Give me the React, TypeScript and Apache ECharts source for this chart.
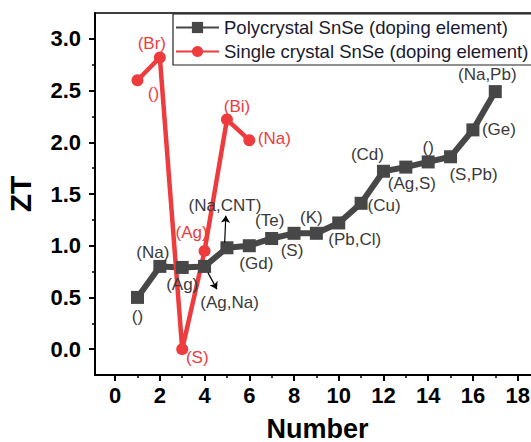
import React, { useEffect, useRef } from "react";
import * as echarts from "echarts";

// ---- data ----
const polyNumbers = [1, 2, 3, 4, 5, 6, 7, 8, 9, 10, 11, 12, 13, 14, 15, 16, 17];
const polyZT = [0.5, 0.8, 0.79, 0.8, 0.98, 1.0, 1.07, 1.12, 1.12, 1.22, 1.41, 1.72, 1.76, 1.81, 1.86, 2.12, 2.49];
const polyLabels = ["()", "(Na)", "(Ag)", "(Ag,Na)", "(Na,CNT)", "(Gd)", "(Te)", "(S)", "(K)", "(Pb,Cl)", "(Cu)", "(Cd)", "(Ag,S)", "()", "(S,Pb)", "(Ge)", "(Na,Pb)"];

const singleNumbers = [1, 2, 3, 4, 5, 6];
const singleZT = [2.6, 2.82, 0.0, 0.95, 2.22, 2.02];
const singleLabels = ["()", "(Br)", "(S)", "(Ag)", "(Bi)", "(Na)"];

const xTicks = [0, 2, 4, 6, 8, 10, 12, 14, 16, 18];
const xMinorTicks = [1, 3, 5, 7, 9, 11, 13, 15, 17];
const yTicks = [0, 0.5, 1.0, 1.5, 2.0, 2.5, 3.0];
const yMinorTicks = [0.25, 0.75, 1.25, 1.75, 2.25, 2.75];

const seriesNames = ["Polycrystal SnSe (doping element)", "Single crystal SnSe (doping element)"];

// ---- styles (label placement offsets in pixels) ----
const polyLabelOffsets = [
  [0, 19], [-7, -14], [0, 17], [25, 36], [-2, -42], [7, 18], [-2, -18], [-2, 17], [-5, -16],
  [16, 17], [23, 2], [-16, -17], [6, 16], [0, -14], [23, 18], [26, 0], [-8, -17],
];
const singleLabelOffsets = [[16, 13], [-8, -14], [15, 8], [-13, -18], [10, -13], [25, -2]];

const FONT = "'Liberation Sans', Arial, sans-serif";
const GRAY = "#474747";
const RED = "#ee3b3d";

export default function App() {
  const ref = useRef<HTMLDivElement>(null);
  useEffect(() => {
    if (!ref.current) return;
    const chart = echarts.init(ref.current, null, { renderer: "svg" });
    const polyData = polyNumbers.map((x, i) => ({
      value: [x, polyZT[i]],
      label: { show: true, formatter: polyLabels[i], position: "inside", offset: polyLabelOffsets[i] },
    }));
    const singleData = singleNumbers.map((x, i) => ({
      value: [x, singleZT[i]],
      label: { show: true, formatter: singleLabels[i], position: "inside", offset: singleLabelOffsets[i] },
    }));
    const axisCommon = { min: -0.9, max: 19 };
    chart.setOption({
      animation: false,
      backgroundColor: "#fff",
      textStyle: { fontFamily: FONT },
      grid: {
        left: 95, right: 5, top: 13, bottom: 67,
        outerBoundsMode: "none",
        containLabel: false,
        show: true, borderColor: "#000", borderWidth: 1.5,
      },
      legend: {
        left: 173,
        top: 14,
        orient: "vertical",
        itemWidth: 43,
        itemHeight: 14,
        itemGap: 5,
        padding: [4, 14, 4, 2],
        borderColor: "#222",
        borderWidth: 1.2,
        backgroundColor: "#fff",
        textStyle: { fontFamily: FONT, fontSize: 18.5, color: "#1a1a2e" },
        data: seriesNames,
      },
      xAxis: [
        {
          type: "value",
          ...axisCommon,
          name: "Number",
          nameLocation: "middle",
          nameGap: 40,
          nameTextStyle: { fontFamily: FONT, fontSize: 27, fontWeight: "bold", color: "#000" },
          axisLine: { show: true, onZero: false, lineStyle: { color: "#000", width: 2 } },
          axisTick: { show: true, length: 6, lineStyle: { color: "#000", width: 2 }, customValues: xTicks },
          axisLabel: { customValues: xTicks, fontFamily: FONT, fontSize: 22, fontWeight: "bold", color: "#000", margin: 9 },
          splitLine: { show: false },
        },
        {
          type: "value",
          ...axisCommon,
          position: "bottom",
          axisLine: { show: false, onZero: false },
          axisTick: { show: true, length: 3, lineStyle: { color: "#000", width: 1.5 }, customValues: xMinorTicks },
          axisLabel: { show: false },
          splitLine: { show: false },
        },
      ],
      yAxis: [
        {
          type: "value",
          min: -0.25,
          max: 3.25,
          name: "ZT",
          nameLocation: "middle",
          nameGap: 60,
          nameTextStyle: { fontFamily: FONT, fontSize: 30, fontWeight: "bold", color: "#000" },
          axisLine: { show: true, onZero: false, lineStyle: { color: "#000", width: 2 } },
          axisTick: { show: true, length: 6, lineStyle: { color: "#000", width: 2 }, customValues: yTicks },
          axisLabel: {
            customValues: yTicks,
            formatter: (v: number) => v.toFixed(1),
            fontFamily: FONT,
            fontSize: 22,
            fontWeight: "bold",
            color: "#000",
            margin: 14,
          },
          splitLine: { show: false },
        },
        {
          type: "value",
          min: -0.25,
          max: 3.25,
          position: "left",
          axisLine: { show: false, onZero: false },
          axisTick: { show: true, length: 3, lineStyle: { color: "#000", width: 1.5 }, customValues: yMinorTicks },
          axisLabel: { show: false },
          splitLine: { show: false },
        },
      ],
      series: [
        {
          name: seriesNames[0],
          type: "line",
          data: polyData,
          symbol: "rect",
          symbolSize: 13,
          itemStyle: { color: GRAY },
          lineStyle: { color: GRAY, width: 6 },
          label: { fontFamily: FONT, fontSize: 17, color: "#3a3a3a" },
          markLine: {
            silent: true,
            symbol: ["none", "arrow"],
            symbolSize: 7,
            label: { show: false },
            lineStyle: { color: "#000", width: 1.2, type: "solid" },
            data: [
              [{ coord: [4.15, 0.74] }, { coord: [4.55, 0.58] }],
              [{ coord: [4.9, 1.03] }, { coord: [4.95, 1.29] }],
            ],
          },
        },
        {
          name: seriesNames[1],
          type: "line",
          data: singleData,
          symbol: "circle",
          symbolSize: 12,
          itemStyle: { color: RED },
          lineStyle: { color: RED, width: 4.5 },
          label: { fontFamily: FONT, fontSize: 17, color: RED },
        },
      ],
    });
    return () => chart.dispose();
  }, []);
  return (
    <div style={{ position: "fixed", left: 0, top: 0, width: 531, height: 442, overflow: "hidden", background: "#fff" }}>
      <div ref={ref} style={{ width: 545, height: 442 }} />
    </div>
  );
}
